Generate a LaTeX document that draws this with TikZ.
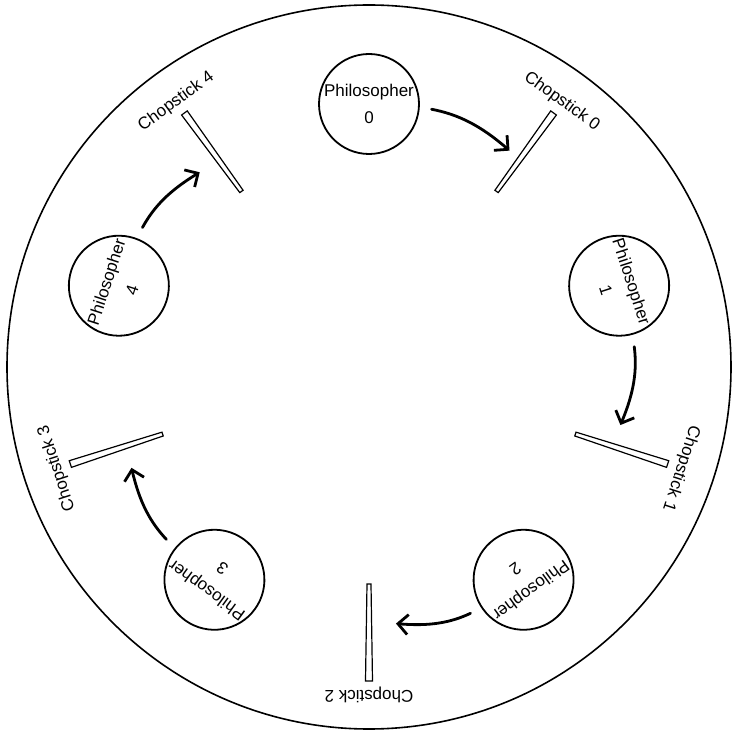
\documentclass[tikz,border=0pt]{standalone}
\usepackage{fontspec}
\setmainfont{Liberation Sans}
\usetikzlibrary{arrows.meta}

\begin{document}
\begin{tikzpicture}[x=0.5pt, y=0.5pt, font=\fontsize{8.5}{13.5}\selectfont,
		philosopher/.style={draw, circle, line width=0.9pt, minimum size=50pt, inner sep=0pt, align=center},
		stick/.style={draw, line width=0.6pt, fill=white},
		sticklabel/.style={inner sep=1pt},
		grab/.style={line width=1.4pt, line cap=round, -{Straight Barb[length=5pt, width=10pt, line width=1.4pt]}, shorten <=6pt}]
			
			% Table
			\useasboundingbox (-369,-366) rectangle (364,367);
			\draw[line width=0.8pt] (0,0) circle (362);
			
			% Philosophers
			\node[philosopher] (p0) at (90:263) {Philosopher\\0};
			\node[philosopher, rotate=-72] (p1) at (18:263) {Philosopher\\1};
			\node[philosopher, rotate=-144] (p2) at (-54:263) {Philosopher\\2};
			\node[philosopher, rotate=-216] (p3) at (-126:263) {Philosopher\\3};
			\node[philosopher, rotate=72] (p4) at (162:263) {Philosopher\\4};
			
			% Chopstick 0
			\draw[stick, rotate=54] (217,-2) -- (314,-3.5) -- (314,3.5) -- (217,2) -- cycle;
			\node[sticklabel, rotate=-36] (c0) at (54:328) {Chopstick 0};
			\coordinate (e0) at (57:258);
			
			% Chopstick 1
			\draw[stick, rotate=-18] (217,-2) -- (314,-3.5) -- (314,3.5) -- (217,2) -- cycle;
			\node[sticklabel, rotate=-108] (c1) at (-18:328) {Chopstick 1};
			\coordinate (e1) at (-13:258);
			
			% Chopstick 2
			\draw[stick, rotate=-90] (217,-2) -- (314,-3.5) -- (314,3.5) -- (217,2) -- cycle;
			\node[sticklabel, rotate=-180] (c2) at (-90:328) {Chopstick 2};
			\coordinate (e2) at (-84:258);
			
			% Chopstick 3
			\draw[stick, rotate=-162] (217,-2) -- (314,-3.5) -- (314,3.5) -- (217,2) -- cycle;
			\node[sticklabel, rotate=108] (c3) at (-162:328) {Chopstick 3};
			\coordinate (e3) at (-157:258);
			
			% Chopstick 4
			\draw[stick, rotate=126] (217,-2) -- (314,-3.5) -- (314,3.5) -- (217,2) -- cycle;
			\node[sticklabel, rotate=36] (c4) at (126:328) {Chopstick 4};
			\coordinate (e4) at (131:258);
			
			% Each philosopher reaches for a chopstick
			\draw[grab] (p0) to[bend left=15] (e0);
			\draw[grab] (p1) to[bend left=15] (e1);
			\draw[grab] (p2) to[bend left=15] (e2);
			\draw[grab] (p3) to[bend left=15] (e3);
			\draw[grab] (p4) to[bend left=15] (e4);
			
		\end{tikzpicture}
\end{document}
